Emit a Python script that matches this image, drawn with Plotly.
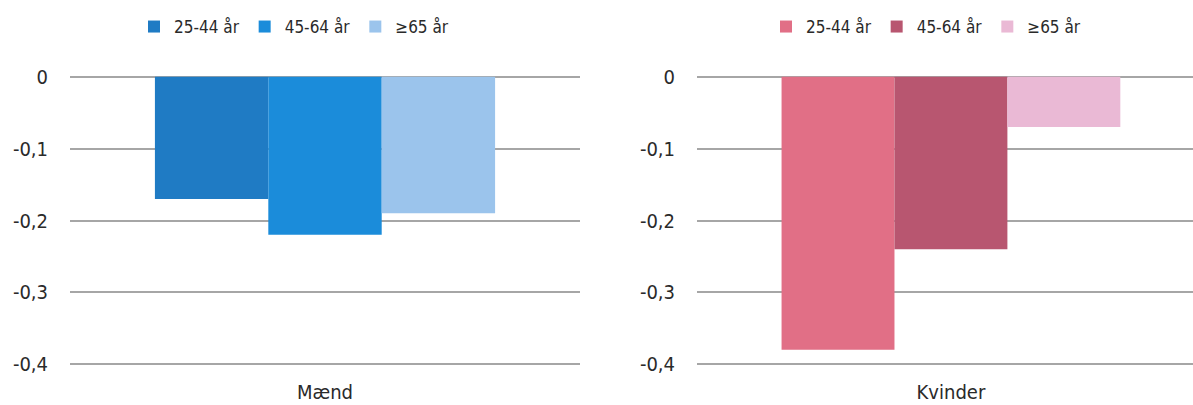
import plotly.graph_objects as go

age_groups = ["25-44 år", "45-64 år", "≥65 år"]
men_category = ["Mænd"]
women_category = ["Kvinder"]
men_values = [-0.17, -0.22, -0.19]
women_values = [-0.38, -0.24, -0.07]
y_ticks = [0, -0.1, -0.2, -0.3, -0.4]
y_tick_labels = ["0", "-0,1", "-0,2", "-0,3", "-0,4"]

men_colors = ["#1f7bc4", "#1b8cda", "#9bc4ec"]
women_colors = ["#e16f86", "#b85670", "#eab9d5"]

W, H = 1193, 405
fig = go.Figure()

for name, val, col in zip(age_groups, men_values, men_colors):
    fig.add_trace(go.Bar(x=men_category, y=[val], name=name, marker_color=col,
                         marker_line_width=0, xaxis="x", yaxis="y", legend="legend"))
for name, val, col in zip(age_groups, women_values, women_colors):
    fig.add_trace(go.Bar(x=women_category, y=[val], name=name, marker_color=col,
                         marker_line_width=0, xaxis="x2", yaxis="y2", legend="legend2"))

family = "'DejaVu Sans Condensed', 'DejaVu Sans', sans-serif"
tick_font = dict(family=family, size=20, color="#2a2a2a")
legend_font = dict(family=family, size=17, color="#2a2a2a")
yax = dict(range=[-0.4025, 0.0025], tickvals=y_ticks, ticktext=y_tick_labels,
           showgrid=True, gridcolor="#a6a6a6", gridwidth=2, zeroline=False,
           showline=False, ticks="", ticklabelstandoff=21, tickfont=tick_font)

fig.update_layout(
    width=W, height=H,
    margin=dict(l=0, r=0, t=75, b=39, autoexpand=False),
    paper_bgcolor="white", plot_bgcolor="white",
    barmode="group", bargap=0.333, bargroupgap=0,
    font=tick_font,
    xaxis=dict(domain=[70 / W, 580 / W], showgrid=False, showline=False, ticks="",
               tickfont=tick_font, range=[-0.5, 0.5], ticklabelstandoff=12),
    xaxis2=dict(domain=[697 / W, 1.0], showgrid=False, showline=False, ticks="",
                tickfont=tick_font, range=[-0.5, 0.4766], ticklabelstandoff=12),
    yaxis=dict(anchor="x", **yax),
    yaxis2=dict(anchor="x2", **yax),
    legend=dict(orientation="h", x=134 / W, y=1.165, xanchor="left", yanchor="middle",
                font=legend_font, itemwidth=30, tracegroupgap=0, bgcolor="rgba(0,0,0,0)"),
    legend2=dict(orientation="h", x=766 / W, y=1.165, xanchor="left", yanchor="middle",
                 font=legend_font, itemwidth=30, tracegroupgap=0, bgcolor="rgba(0,0,0,0)"),
)

fig.write_html("out.html", config={"displayModeBar": False},
               post_script="document.body.style.margin='0';")
